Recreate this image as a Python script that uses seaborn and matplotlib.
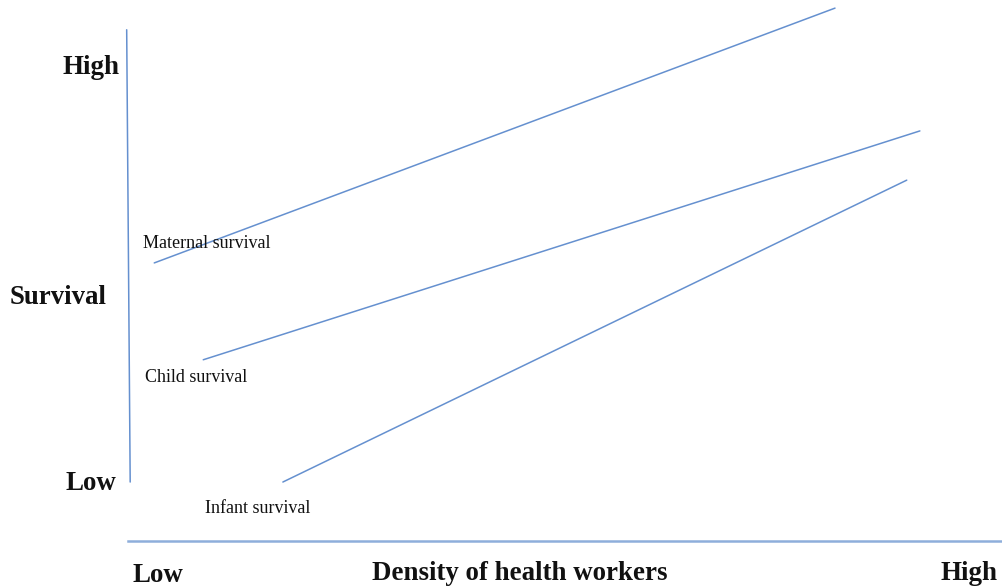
import matplotlib
matplotlib.use("Agg")
import matplotlib.pyplot as plt
import pandas as pd
import seaborn as sns

# conceptual chart: density of health workers (0-100) vs survival (0-100)
series = ["Maternal survival", "Child survival", "Infant survival"]
density_start = [3.0, 8.6, 17.7]
density_end = [80.8, 90.5, 89.0]
survival_start = [51.4, 33.5, 10.9]
survival_end = [98.5, 75.8, 66.7]

# where each series label sits (data units)
label_x = [1.7, 2.0, 8.8]
label_y = [55.0, 30.3, 6.0]

LINE_COLOR = "#6590cf"
AXIS_COLOR = "#8eaedb"

rows = []
for name, x0, x1, y0, y1 in zip(series, density_start, density_end, survival_start, survival_end):
    rows.append({"series": name, "density": x0, "survival": y0})
    rows.append({"series": name, "density": x1, "survival": y1})
df = pd.DataFrame(rows)

sns.set_style("white")
plt.rcParams["font.family"] = ["Liberation Serif", "DejaVu Serif"]

fig = plt.figure(figsize=(10.03, 5.88), dpi=100)
ax = fig.add_axes([128 / 1003, 47 / 588, 875 / 1003, 541 / 588])

sns.lineplot(data=df, x="density", y="survival", hue="series",
             palette=[LINE_COLOR] * 3, linewidth=1.1, legend=False,
             ax=ax, estimator=None, sort=False)

ax.set_xlim(0, 100)
ax.set_ylim(0, 100)
ax.set_xticks([])
ax.set_yticks([])
ax.set_xlabel("")
ax.set_ylabel("")
for side in ["top", "right", "left"]:
    ax.spines[side].set_visible(False)
ax.spines["bottom"].set_color(AXIS_COLOR)
ax.spines["bottom"].set_linewidth(1.8)

# vertical survival axis (slightly tilted, does not reach the bottom)
ax.plot([-0.15, 0.25], [94.5, 10.9], color=LINE_COLOR, lw=1.1, clip_on=False)

for name, lx, ly in zip(series, label_x, label_y):
    ax.text(lx, ly, name, fontsize=13, ha="left", va="center", color="#111111")

bold = dict(fontweight="bold", fontsize=19.4, color="#111111")
fig.text(120 / 1003, 1 - 67 / 588, "High", ha="right", va="center", **bold)
fig.text(10 / 1003, 1 - 298 / 588, "Survival", ha="left", va="center", **bold)
fig.text(116 / 1003, 1 - 484 / 588, "Low", ha="right", va="center", **bold)
fig.text(133 / 1003, 1 - 575 / 588, "Low", ha="left", va="center", **bold)
fig.text(520 / 1003, 1 - 573 / 588, "Density of health workers", ha="center", va="center", **bold)
fig.text(998 / 1003, 1 - 573 / 588, "High", ha="right", va="center", **bold)

fig.savefig("out.png", dpi=100)
plt.close(fig)
